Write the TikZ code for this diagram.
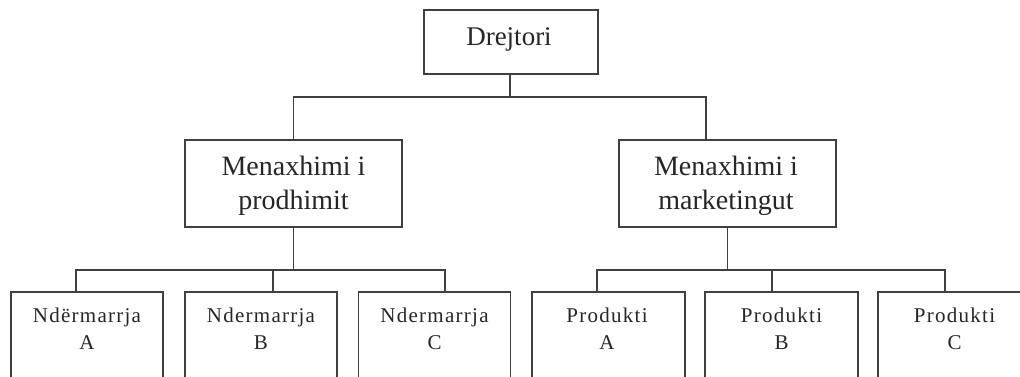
\documentclass[tikz,border=0pt]{standalone}
\usepackage{fontspec}
\setmainfont{Liberation Serif}
\newfontfamily\spacedserif[LetterSpace=6]{Liberation Serif}
\newcommand\twolines[2]{\begin{tabular}[t]{@{}c@{}}#1\\#2\end{tabular}}
\begin{document}
\begin{tikzpicture}[x=1pt,y=-1pt,
  box/.style={draw=black!75, line width=1.6pt, fill=white, inner sep=0pt},
  conn/.style={draw=black!75, line width=1.6pt},
  toptext/.style={anchor=base, inner sep=0pt, text=black!85, font=\fontsize{27}{32}\selectfont},
  midtext/.style={anchor=base, inner sep=0pt, text=black!85, font=\fontsize{28}{34}\selectfont},
  lowtext/.style={anchor=base, inner sep=0pt, text=black!85, font=\spacedserif\fontsize{21}{27}\selectfont}]
\useasboundingbox (0,0) rectangle (1020,376);
\fill[white] (0,0) rectangle (1020,376);
\clip (0,0) rectangle (1020,376);

% boxes
\node[box, minimum width=174pt, minimum height=64pt] (top) at (511,42) {};
\node[box, minimum width=217pt, minimum height=87pt] (m1) at (293.5,183.5) {};
\node[box, minimum width=217pt, minimum height=87pt] (m2) at (727.5,183.5) {};
\node[box, minimum width=152pt, minimum height=108pt] (nA) at (87,346) {};
\node[box, minimum width=152pt, minimum height=108pt] (nB) at (261,346) {};
\node[box, minimum width=152pt, minimum height=108pt] (nC) at (434.5,346) {};
\node[box, minimum width=153pt, minimum height=108pt] (pA) at (608.5,346) {};
\node[box, minimum width=153pt, minimum height=108pt] (pB) at (781.5,346) {};
\node[box, minimum width=153pt, minimum height=108pt] (pC) at (954.5,346) {};

% texts
\node[toptext] (tTop) at (509,45) {Drejtori};
\node[midtext] (tM1) at (293.5,175) {\twolines{Menaxhimi i}{prodhimit}};
\node[midtext] (tM2) at (726,175) {\twolines{Menaxhimi i}{marketingut}};
\node[lowtext] (tA) at (87,322) {\twolines{Ndërmarrja}{A}};
\node[lowtext] (tB) at (261,322) {\twolines{Ndermarrja}{B}};
\node[lowtext] (tC) at (434.5,322) {\twolines{Ndermarrja}{C}};
\node[lowtext] (tPA) at (607,322) {\twolines{Produkti}{A}};
\node[lowtext] (tPB) at (781.5,322) {\twolines{Produkti}{B}};
\node[lowtext] (tPC) at (954.5,322) {\twolines{Produkti}{C}};

% connectors
\draw[conn] ([xshift=-1pt]top.south) -- ++(0,22) coordinate (jT);
\draw[conn] (jT) -| (m1.north);
\draw[conn] (jT) -| ([xshift=-21.5pt]m2.north);

\draw[conn] (m1.south) -- ++(0,42) coordinate (jL);
\draw[conn] (jL) -| ([xshift=-11pt]nA.north);
\draw[conn] (jL) -| ([xshift=12pt]nB.north);
\draw[conn] (jL) -| ([xshift=10.5pt]nC.north);

\draw[conn] (m2.south) -- ++(0,42) coordinate (jR);
\draw[conn] (jR) -| ([xshift=-11.5pt]pA.north);
\draw[conn] (jR) -| ([xshift=-9.5pt]pB.north);
\draw[conn] (jR) -| ([xshift=-9.5pt]pC.north);
\end{tikzpicture}
\end{document}
